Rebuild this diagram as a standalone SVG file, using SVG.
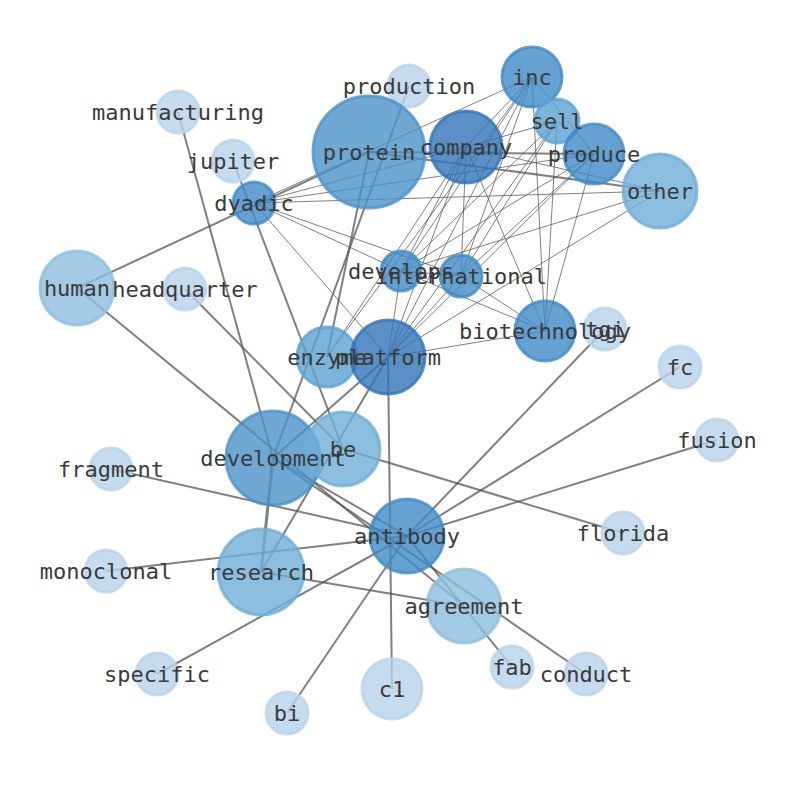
<svg xmlns="http://www.w3.org/2000/svg" width="794" height="790" viewBox="0 0 794 790">
<style>
.t{stroke:#555;stroke-opacity:0.75;stroke-width:2;fill:none}
.n{stroke:#555;stroke-opacity:0.75;stroke-width:1;fill:none}
circle{stroke-width:3;fill-opacity:0.8;stroke-opacity:0.8}
.c0{fill:#b8d3ea;stroke:#b8d3ea}
.c1{fill:#8cbede;stroke:#8cbede}
.c2{fill:#6faed7;stroke:#6faed7}
.c3{fill:#5ca2d1;stroke:#5ca2d1}
.c4{fill:#4b92c8;stroke:#4b92c8}
.c5{fill:#408bc5;stroke:#408bc5}
.c6{fill:#3174b6;stroke:#3174b6}
text{font-family:"DejaVu Sans Mono","Liberation Mono",monospace;font-size:22px;fill:#3a3a3a;text-anchor:middle;dominant-baseline:central}
</style>
<rect width="794" height="790" fill="#fff"/>
<g id="edges">
<line class="n" x1="532" y1="77" x2="254" y2="203"/>
<line class="n" x1="532" y1="77" x2="401" y2="271"/>
<line class="n" x1="532" y1="77" x2="461" y2="276"/>
<line class="n" x1="532" y1="77" x2="388" y2="357"/>
<line class="n" x1="532" y1="77" x2="327" y2="357"/>
<line class="n" x1="532" y1="77" x2="545" y2="331"/>
<line class="n" x1="532" y1="77" x2="594" y2="154"/>
<line class="n" x1="532" y1="77" x2="466" y2="147"/>
<line class="n" x1="466" y1="147" x2="401" y2="271"/>
<line class="n" x1="466" y1="147" x2="461" y2="276"/>
<line class="n" x1="466" y1="147" x2="388" y2="357"/>
<line class="n" x1="466" y1="147" x2="327" y2="357"/>
<line class="n" x1="466" y1="147" x2="545" y2="331"/>
<line class="n" x1="466" y1="147" x2="557" y2="121"/>
<line class="n" x1="466" y1="147" x2="254" y2="203"/>
<line class="n" x1="466" y1="147" x2="660" y2="191"/>
<line class="n" x1="557" y1="121" x2="401" y2="271"/>
<line class="n" x1="557" y1="121" x2="461" y2="276"/>
<line class="n" x1="557" y1="121" x2="388" y2="357"/>
<line class="n" x1="557" y1="121" x2="545" y2="331"/>
<line class="n" x1="594" y1="154" x2="401" y2="271"/>
<line class="n" x1="594" y1="154" x2="461" y2="276"/>
<line class="n" x1="594" y1="154" x2="388" y2="357"/>
<line class="n" x1="594" y1="154" x2="545" y2="331"/>
<line class="n" x1="594" y1="154" x2="254" y2="203"/>
<line class="n" x1="660" y1="191" x2="401" y2="271"/>
<line class="n" x1="660" y1="191" x2="254" y2="203"/>
<line class="n" x1="660" y1="191" x2="388" y2="357"/>
<line class="n" x1="401" y1="271" x2="461" y2="276"/>
<line class="n" x1="401" y1="271" x2="545" y2="331"/>
<line class="n" x1="401" y1="271" x2="254" y2="203"/>
<line class="n" x1="401" y1="271" x2="388" y2="357"/>
<line class="n" x1="461" y1="276" x2="545" y2="331"/>
<line class="n" x1="461" y1="276" x2="254" y2="203"/>
<line class="n" x1="461" y1="276" x2="388" y2="357"/>
<line class="n" x1="388" y1="357" x2="545" y2="331"/>
<line class="n" x1="388" y1="357" x2="254" y2="203"/>
<line class="t" x1="77" y1="288" x2="369" y2="152"/>
<line class="t" x1="178" y1="112" x2="273" y2="458"/>
<line class="t" x1="233" y1="161" x2="343" y2="449"/>
<line class="t" x1="185" y1="289" x2="343" y2="449"/>
<line class="t" x1="77" y1="288" x2="464" y2="606"/>
<line class="t" x1="409" y1="86" x2="273" y2="458"/>
<line class="t" x1="369" y1="152" x2="327" y2="357"/>
<line class="t" x1="369" y1="152" x2="594" y2="154"/>
<line class="t" x1="369" y1="152" x2="660" y2="191"/>
<line class="t" x1="273" y1="458" x2="388" y2="357"/>
<line class="t" x1="273" y1="458" x2="261" y2="572" style="stroke-width:3"/>
<line class="t" x1="388" y1="357" x2="261" y2="572"/>
<line class="t" x1="388" y1="357" x2="392" y2="689"/>
<line class="t" x1="343" y1="449" x2="623" y2="533"/>
<line class="t" x1="605" y1="329" x2="407" y2="536"/>
<line class="t" x1="680" y1="367" x2="407" y2="536"/>
<line class="t" x1="717" y1="440" x2="407" y2="536"/>
<line class="t" x1="111" y1="469" x2="407" y2="536"/>
<line class="t" x1="106" y1="571" x2="407" y2="536"/>
<line class="t" x1="157" y1="674" x2="407" y2="536"/>
<line class="t" x1="287" y1="713" x2="407" y2="536"/>
<line class="t" x1="261" y1="572" x2="464" y2="606"/>
<line class="t" x1="407" y1="536" x2="512" y2="667"/>
<line class="t" x1="273" y1="458" x2="586" y2="674"/>
<line class="t" x1="273" y1="458" x2="407" y2="536"/>
</g>
<g id="nodes">
<g id="n-production"><circle class="c0" cx="409" cy="86" r="21"/></g>
<g id="n-manufacturing"><circle class="c0" cx="178" cy="112" r="21"/></g>
<g id="n-jupiter"><circle class="c0" cx="233" cy="161" r="21"/></g>
<g id="n-protein"><circle class="c4" cx="369" cy="152" r="56"/></g>
<g id="n-inc"><circle class="c5" cx="532" cy="77" r="30"/></g>
<g id="n-sell"><circle class="c3" cx="557" cy="121" r="22"/></g>
<g id="n-company"><circle class="c6" cx="466" cy="147" r="36"/></g>
<g id="n-produce"><circle class="c5" cx="594" cy="154" r="30"/></g>
<g id="n-other"><circle class="c2" cx="660" cy="191" r="37"/></g>
<g id="n-dyadic"><circle class="c5" cx="254" cy="203" r="21"/></g>
<g id="n-develops"><circle class="c5" cx="401" cy="271" r="20"/></g>
<g id="n-international"><circle class="c5" cx="461" cy="276" r="21"/></g>
<g id="n-human"><circle class="c1" cx="77" cy="288" r="37"/></g>
<g id="n-headquarter"><circle class="c0" cx="185" cy="289" r="21"/></g>
<g id="n-tgi"><circle class="c0" cx="605" cy="329" r="21"/></g>
<g id="n-biotechnology"><circle class="c5" cx="545" cy="331" r="30"/></g>
<g id="n-enzyme"><circle class="c3" cx="327" cy="357" r="30"/></g>
<g id="n-platform"><circle class="c6" cx="388" cy="357" r="37"/></g>
<g id="n-fc"><circle class="c0" cx="680" cy="367" r="21"/></g>
<g id="n-fusion"><circle class="c0" cx="717" cy="440" r="21"/></g>
<g id="n-development"><circle class="c4" cx="273" cy="458" r="47"/></g>
<g id="n-be"><circle class="c2" cx="343" cy="449" r="37"/></g>
<g id="n-fragment"><circle class="c0" cx="111" cy="469" r="21"/></g>
<g id="n-florida"><circle class="c0" cx="623" cy="533" r="21"/></g>
<g id="n-antibody"><circle class="c5" cx="407" cy="536" r="37"/></g>
<g id="n-monoclonal"><circle class="c0" cx="106" cy="571" r="21"/></g>
<g id="n-research"><circle class="c2" cx="261" cy="572" r="43"/></g>
<g id="n-agreement"><circle class="c1" cx="464" cy="606" r="37"/></g>
<g id="n-specific"><circle class="c0" cx="157" cy="674" r="21"/></g>
<g id="n-fab"><circle class="c0" cx="512" cy="667" r="21"/></g>
<g id="n-conduct"><circle class="c0" cx="586" cy="674" r="21"/></g>
<g id="n-c1"><circle class="c0" cx="392" cy="689" r="30"/></g>
<g id="n-bi"><circle class="c0" cx="287" cy="713" r="21"/></g>
</g>
<g id="labels">
<text id="l-production" x="409" y="86">production</text>
<text id="l-manufacturing" x="178" y="112">manufacturing</text>
<text id="l-jupiter" x="233" y="161">jupiter</text>
<text id="l-protein" x="369" y="152">protein</text>
<text id="l-inc" x="532" y="77">inc</text>
<text id="l-sell" x="557" y="121">sell</text>
<text id="l-company" x="466" y="147">company</text>
<text id="l-produce" x="594" y="154">produce</text>
<text id="l-other" x="660" y="191">other</text>
<text id="l-dyadic" x="254" y="203">dyadic</text>
<text id="l-develops" x="401" y="271">develops</text>
<text id="l-international" x="461" y="276">international</text>
<text id="l-human" x="77" y="288">human</text>
<text id="l-headquarter" x="185" y="289">headquarter</text>
<text id="l-tgi" x="605" y="329">tgi</text>
<text id="l-biotechnology" x="545" y="331">biotechnology</text>
<text id="l-enzyme" x="327" y="357">enzyme</text>
<text id="l-platform" x="388" y="357">platform</text>
<text id="l-fc" x="680" y="367">fc</text>
<text id="l-fusion" x="717" y="440">fusion</text>
<text id="l-development" x="273" y="458">development</text>
<text id="l-be" x="343" y="449">be</text>
<text id="l-fragment" x="111" y="469">fragment</text>
<text id="l-florida" x="623" y="533">florida</text>
<text id="l-antibody" x="407" y="536">antibody</text>
<text id="l-monoclonal" x="106" y="571">monoclonal</text>
<text id="l-research" x="261" y="572">research</text>
<text id="l-agreement" x="464" y="606">agreement</text>
<text id="l-specific" x="157" y="674">specific</text>
<text id="l-fab" x="512" y="667">fab</text>
<text id="l-conduct" x="586" y="674">conduct</text>
<text id="l-c1" x="392" y="689">c1</text>
<text id="l-bi" x="287" y="713">bi</text>
</g>
</svg>
